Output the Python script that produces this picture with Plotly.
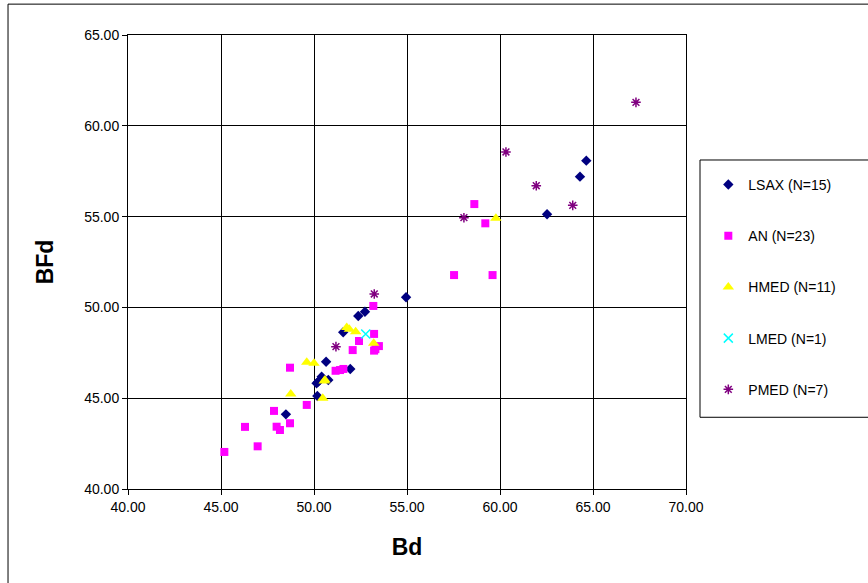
import plotly.graph_objects as go

# Bd / BFd measurements per group
lsax_bd = [48.49, 50.18, 50.14, 50.23, 50.41, 50.77, 50.65, 51.95, 51.57, 52.38, 52.74, 54.95, 62.53, 64.30, 64.64]
lsax_bfd = [44.11, 45.12, 45.82, 45.91, 46.18, 46.00, 47.01, 46.61, 48.63, 49.53, 49.76, 50.56, 55.13, 57.20, 58.08]

an_bd = [45.18, 46.29, 46.97, 47.85, 47.99, 48.17, 48.71, 48.71, 49.61, 51.16, 51.58, 51.40,
         52.08, 52.42, 53.23, 53.23, 53.49, 53.30, 53.19, 57.53, 59.60, 58.62, 59.21]
an_bfd = [42.04, 43.42, 42.35, 44.30, 43.43, 43.25, 43.62, 46.68, 44.63, 46.51, 46.61, 46.55,
          47.65, 48.15, 48.54, 47.62, 47.87, 47.70, 50.08, 51.78, 51.78, 55.69, 54.63]

hmed_bd = [48.75, 49.61, 50.00, 50.47, 50.59, 51.76, 52.24, 53.21, 59.78, 51.90, 50.55]
hmed_bfd = [45.23, 46.98, 46.92, 45.00, 46.00, 48.90, 48.66, 48.02, 54.91, 48.80, 45.95]

lmed_bd = [52.78]
lmed_bfd = [48.54]

pmed_bd = [51.18, 53.24, 58.06, 60.32, 61.95, 63.91, 67.31]
pmed_bfd = [47.84, 50.74, 54.94, 58.56, 56.70, 55.62, 61.29]

x_ticks = [40, 45, 50, 55, 60, 65, 70]
y_ticks = [40, 45, 50, 55, 60, 65]

FONT = "Arial, Liberation Sans, sans-serif"

series = [
    ("LSAX (N=15)", lsax_bd, lsax_bfd, dict(symbol="diamond", size=8, color="#000080")),
    ("AN (N=23)", an_bd, an_bfd, dict(symbol="square", size=8, color="#FF00FF")),
    ("HMED (N=11)", hmed_bd, hmed_bfd, dict(symbol="triangle-up", size=10, color="#FFFF00")),
    ("LMED (N=1)", lmed_bd, lmed_bfd, dict(symbol="x-thin-open", size=9, color="#00FFFF",
                                           line=dict(width=1.5, color="#00FFFF"))),
    ("PMED (N=7)", pmed_bd, pmed_bfd, dict(symbol="asterisk-open", size=8, color="#800080",
                                           line=dict(width=1.5, color="#800080"))),
]

fig = go.Figure()
for i, (name, xs, ys, mk) in enumerate(series):
    fig.add_trace(go.Scatter(x=xs, y=ys, mode="markers", name=name, marker=mk,
                             legendgroup=f"g{i}"))

axis_common = dict(
    showgrid=True, gridcolor="black", gridwidth=1,
    showline=True, linecolor="black", linewidth=1, mirror=True,
    ticks="outside", ticklen=5, tickcolor="black",
    tickformat=".2f", zeroline=False,
    tickfont=dict(family=FONT, size=14, color="black"),
)

fig.update_xaxes(range=[40, 70], tickvals=x_ticks,
                 title=dict(text="<b>Bd</b>", font=dict(family=FONT, size=23, color="black"),
                            standoff=25),
                 **axis_common)
fig.update_yaxes(range=[40, 65], tickvals=y_ticks,
                 title=dict(text="<b>BFd</b>", font=dict(family=FONT, size=23, color="black"),
                            standoff=24),
                 **axis_common)

fig.update_layout(
    width=868, height=583,
    margin=dict(l=128, r=182, t=35, b=94),
    paper_bgcolor="white", plot_bgcolor="white",
    font=dict(family=FONT, color="black"),
    legend=dict(
        x=1.04, y=0.705, xanchor="left", yanchor="top",
        font=dict(family=FONT, size=14, color="black"),
        tracegroupgap=30, bgcolor="rgba(0,0,0,0)", borderwidth=0,
    ),
    shapes=[
        # outer chart frame
        dict(type="rect", xref="paper", yref="paper", x0=-0.215, x1=1.33, y0=-0.22, y1=1.068,
             line=dict(color="black", width=1), layer="below"),
        # legend box
        dict(type="rect", xref="paper", yref="paper", x0=1.0251, x1=1.33, y0=0.158, y1=0.7247,
             line=dict(color="black", width=1), layer="below"),
    ],
)

fig.write_html("out.html")
